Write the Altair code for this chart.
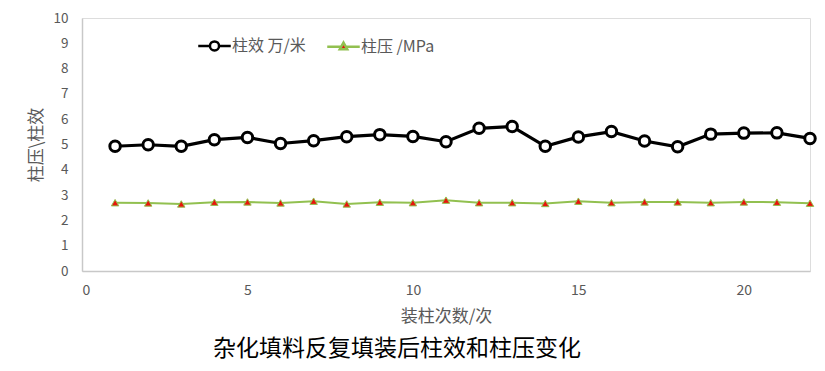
import altair as alt
import pandas as pd

runs = [1, 2, 3, 4, 5, 6, 7, 8, 9, 10, 11, 12, 13, 14, 15, 16, 17, 18, 19, 20, 21, 22]
efficiency = [4.93, 4.99, 4.93, 5.19, 5.28, 5.04, 5.15, 5.31, 5.39, 5.32, 5.11,
              5.64, 5.71, 4.93, 5.30, 5.51, 5.14, 4.91, 5.41, 5.45, 5.46, 5.24]
pressure = [2.70, 2.69, 2.65, 2.72, 2.73, 2.69, 2.76, 2.65, 2.72, 2.70, 2.80,
            2.70, 2.70, 2.67, 2.76, 2.70, 2.73, 2.73, 2.70, 2.73, 2.72, 2.68]
series_names = ["柱效 万/米", "柱压 /MPa"]
x_ticks = [0, 5, 10, 15, 20]
y_ticks = [0, 1, 2, 3, 4, 5, 6, 7, 8, 9, 10]

FONT = "Noto Sans CJK SC"
GRAY = "#595959"
GREEN = "#92c050"
RED = "#e8140c"

df = pd.DataFrame({
    "run": runs * 2,
    "value": efficiency + pressure,
    "series": [series_names[0]] * len(runs) + [series_names[1]] * len(runs),
})

x_enc = alt.X("run:Q", scale=alt.Scale(domain=[0, 22], nice=False, zero=True),
              axis=alt.Axis(values=x_ticks, title="装柱次数/次", grid=False, ticks=False,
                            domainColor="#c8c8c8", domainWidth=1.5, labelPadding=12,
                            labelFontSize=14, labelColor=GRAY, titleFontSize=17,
                            titleColor=GRAY, titleFontWeight="normal", titlePadding=11,
                            labelFont=FONT, titleFont=FONT, labelOverlap=False))
y_enc = alt.Y("value:Q", scale=alt.Scale(domain=[0, 10], nice=False),
              axis=alt.Axis(values=y_ticks, title="柱压\\柱效", grid=False, ticks=False,
                            domainColor="#c8c8c8", domainWidth=1.5, labelPadding=14,
                            labelFontSize=13.5, labelColor=GRAY, titleFontSize=17,
                            titleColor=GRAY, titleFontWeight="normal", titlePadding=8,
                            labelFont=FONT, titleFont=FONT, labelOverlap=False))

base = alt.Chart(df)
eff = base.transform_filter(alt.datum.series == series_names[0])
prs = base.transform_filter(alt.datum.series == series_names[1])

line_prs = prs.mark_line(color=GREEN, strokeWidth=2).encode(x=x_enc, y=y_enc)
pt_prs = prs.mark_point(shape="triangle-up", filled=True, fill=RED, stroke=GREEN,
                        strokeWidth=1, size=55, opacity=1).encode(x=x_enc, y=y_enc)
line_eff = eff.mark_line(color="black", strokeWidth=3.2).encode(x=x_enc, y=y_enc)
pt_eff = eff.mark_point(shape="circle", filled=True, fill="white", stroke="black",
                        strokeWidth=3, size=110, opacity=1).encode(x=x_enc, y=y_enc)

legend_paths = [
    "M-1.5,0H-0.42M0.42,0H1.5M0.42,0A0.42,0.42,0,1,1,-0.42,0A0.42,0.42,0,1,1,0.42,0Z",
    "M-1.5,0H-0.22M0.22,0H1.5M0,-0.38L0.34,0.22L-0.34,0.22Z",
]


def make_legend():
    return alt.Legend(title=None, orient="none", legendX=120, legendY=15,
                      direction="horizontal", symbolSize=470,
                      symbolOpacity=1, symbolStrokeWidth=2.5,
                      labelFont=FONT, labelFontSize=16, labelColor=GRAY,
                      columnPadding=16, labelOffset=5)


legend_layer = base.mark_point(filled=True, opacity=0).encode(
    x=x_enc, y=y_enc,
    shape=alt.Shape("series:N", scale=alt.Scale(domain=series_names, range=legend_paths),
                    legend=make_legend()),
    fill=alt.Fill("series:N", scale=alt.Scale(domain=series_names, range=["white", RED]),
                  legend=make_legend()),
    stroke=alt.Stroke("series:N", scale=alt.Scale(domain=series_names, range=["black", GREEN]),
                      legend=make_legend()),
)

chart = alt.layer(line_prs, pt_prs, line_eff, pt_eff, legend_layer).properties(
    width=728, height=253,
    autosize=alt.AutoSizeParams(type="none"),
    padding={"left": 74, "top": 10, "right": 7, "bottom": 92},
    title=alt.Title("杂化填料反复填装后柱效和柱压变化", orient="bottom", anchor="middle",
                    dx=-49, offset=14, fontSize=23, font=FONT, color="black",
                    fontWeight="normal"),
).configure_view(stroke=None).configure(background="white")

chart.save("out.html", embed_options={"renderer": "svg", "actions": False})
